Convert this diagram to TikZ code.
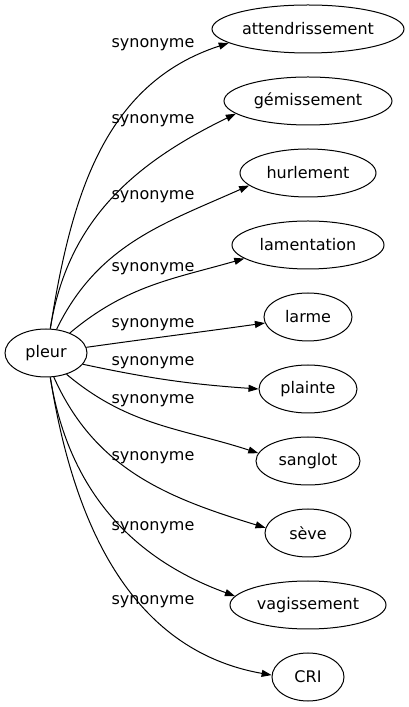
\documentclass[tikz,border=0pt]{standalone}
\usepackage{fontspec}
\setmainfont{DejaVu Sans}
\usetikzlibrary{shapes.geometric,arrows.meta}
\tikzset{
  word/.style={draw, ellipse, line width=0.75pt, inner sep=0pt, minimum height=36pt},
  lbl/.style={anchor=base, inner sep=0pt},
  rel/.style={line width=0.75pt, -{Triangle[length=7.5pt,width=5.25pt]}}
}
\begin{document}
\begin{tikzpicture}[x=0.75pt, y=0.75pt, font=\fontsize{12pt}{14pt}\selectfont]
                \useasboundingbox (0,0) rectangle (409,707);

                \node[word, minimum width=61.5pt] (pleur) at (46,354) {pleur};

                \node[word, minimum width=144pt] (attendrissement) at (308,678) {attendrissement};
                \node[word, minimum width=126pt] (gemissement) at (308,606) {gémissement};
                \node[word, minimum width=102pt] (hurlement) at (308,534) {hurlement};
                \node[word, minimum width=114pt] (lamentation) at (308,462) {lamentation};
                \node[word, minimum width=66pt] (larme) at (308,390) {larme};
                \node[word, minimum width=73.5pt] (plainte) at (308,318) {plainte};
                \node[word, minimum width=78pt] (sanglot) at (308,246) {sanglot};
                \node[word, minimum width=64.5pt] (seve) at (308,174) {sève};
                \node[word, minimum width=117pt] (vagissement) at (308,102) {vagissement};
                \node[word, minimum width=54pt] (cri) at (308,30) {CRI};

                \node[lbl] (l1) at (153,659) {synonyme};
                \node[lbl] (l2) at (153,583) {synonyme};
                \node[lbl] (l3) at (153,507) {synonyme};
                \node[lbl] (l4) at (153,435) {synonyme};
                \node[lbl] (l5) at (153,379) {synonyme};
                \node[lbl] (l6) at (153,341) {synonyme};
                \node[lbl] (l7) at (153,303) {synonyme};
                \node[lbl] (l8) at (153,246) {synonyme};
                \node[lbl] (l9) at (153,176) {synonyme};
                \node[lbl] (l10) at (153,102) {synonyme};

                \draw[rel] (pleur.80) to[out=81, in=198] (attendrissement.190);
                \draw[rel] (pleur.80) to[out=81, in=206] (gemissement.190);
                \draw[rel] (pleur.66) to[out=64, in=204] (hurlement.192);
                \draw[rel] (pleur.40) to[out=40, in=196] (lamentation.192);
                \draw[rel] (pleur.8) to[out=8, in=188] (larme.188);
                \draw[rel] (pleur.-17) to[out=-12, in=176] (plainte.180);
                \draw[rel] (pleur.-46) to[out=-40, in=162] (sanglot.171);
                \draw[rel] (pleur.-72) to[out=-66, in=163] (seve.173);
                \draw[rel] (pleur.-80) to[out=-81, in=160] (vagissement.173);
                \draw[rel] (pleur.-80) to[out=-81, in=170] (cri.177);
            \end{tikzpicture}
\end{document}
